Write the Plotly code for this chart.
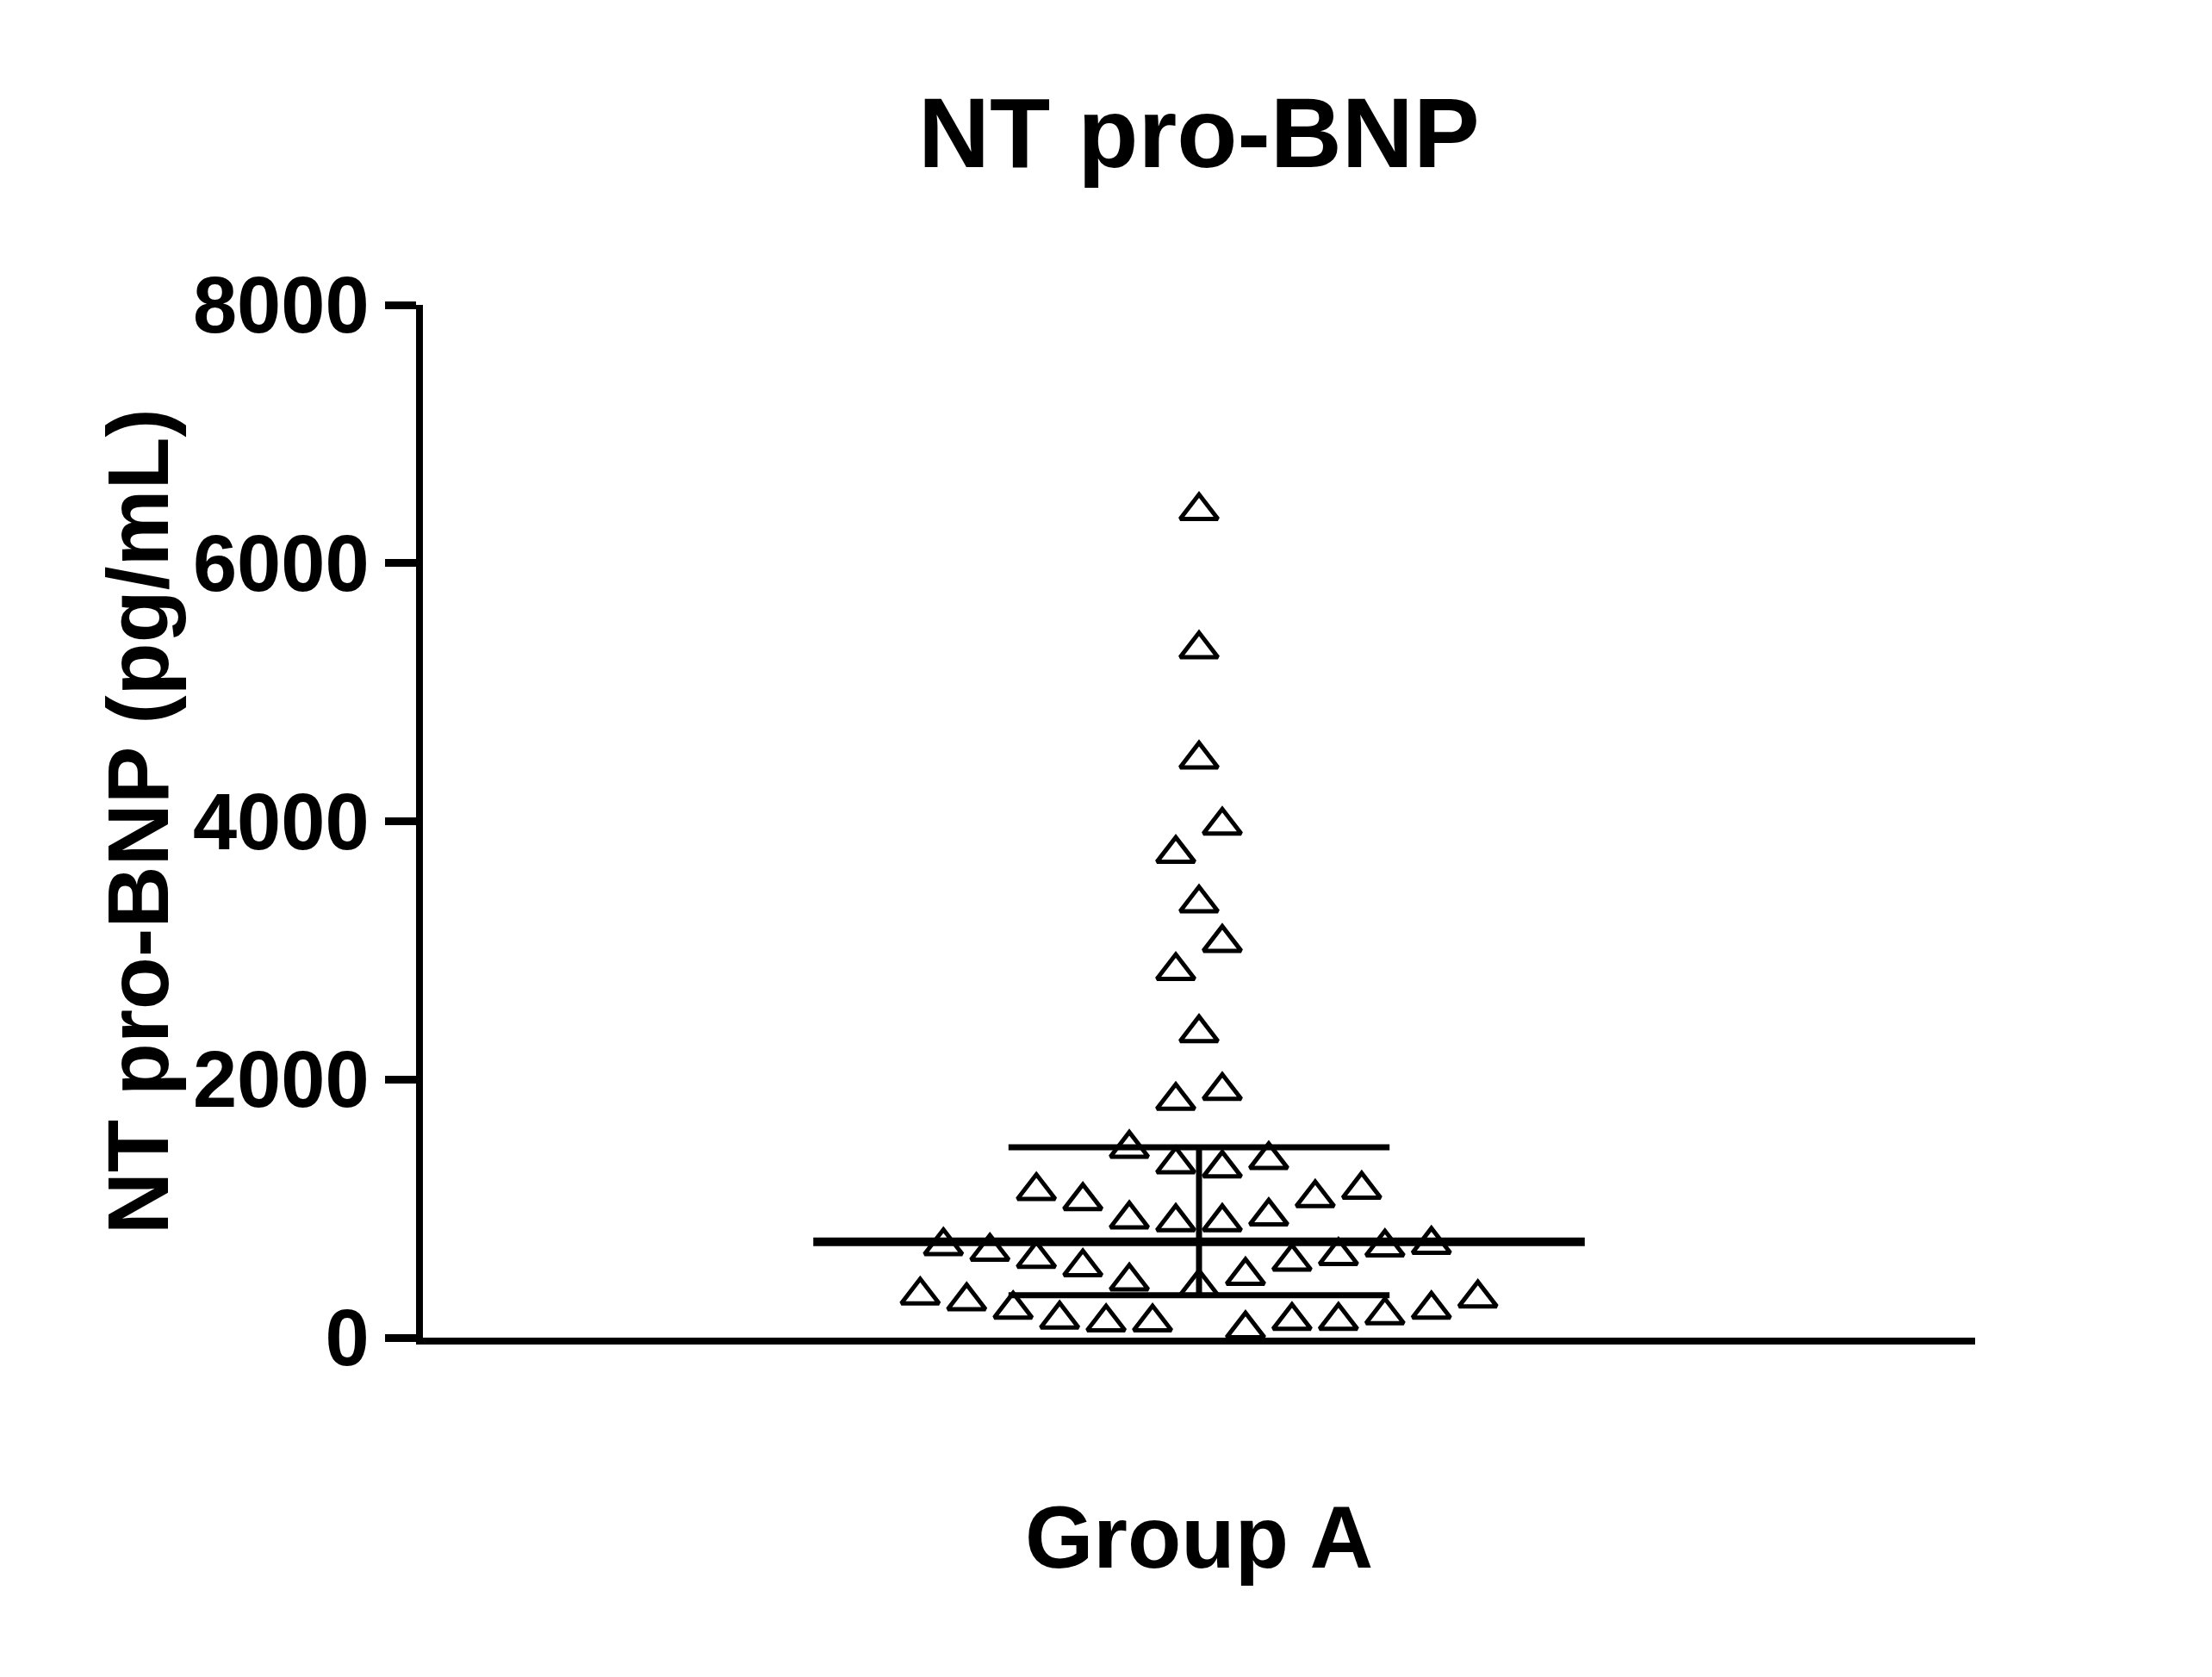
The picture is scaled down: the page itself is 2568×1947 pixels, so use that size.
import plotly.graph_objects as go

# NT pro-BNP values (pg/mL) and horizontal scatter offsets (in marker steps)
offsets = [0, 0, 0, 0.5, -0.5, 0, 0.5, -0.5, 0, 0.5, -0.5,
           -1.5, -0.5, 0.5, 1.5, -3.5, -2.5, 2.5, 3.5,
           -1.5, -0.5, 0.5, 1.5, -5.5, -4.5, -3.5, -2.5, 4, 5, 3, 2,
           -1.5, 0, 1,
           -6, -5, -4, -3, -2, -1, 0, 1, 2, 3, 4, 5, 6]
values = [6405, 5334, 4481, 3968, 3749, 3366, 3060, 2842, 2361, 1913, 1836,
          1465, 1344, 1312, 1377, 1137, 1060, 1082, 1148,
          918, 896, 896, 940, 710, 667, 612, 547, 700, 721, 634, 590,
          437, 393, 481,
          328, 284, 219, 142, 120, 120, -60, 66, 131, 131, 175, 219, 306]
median = 743
q1 = 328
q3 = 1475

BLACK = "black"
FONT = "Liberation Sans Narrow, Liberation Sans, Arial"
TFONT = "Liberation Sans, Arial"

fig = go.Figure()
# median and interquartile range
fig.add_trace(go.Scatter(x=[-8.3, 8.3], y=[median, median], mode="lines",
                         line=dict(color=BLACK, width=10), showlegend=False))
for v in (q1, q3):
    fig.add_trace(go.Scatter(x=[-4.1, 4.1], y=[v, v], mode="lines",
                             line=dict(color=BLACK, width=7), showlegend=False))
fig.add_trace(go.Scatter(x=[0, 0], y=[q1, q3], mode="lines",
                         line=dict(color=BLACK, width=7), showlegend=False))
fig.add_trace(go.Scatter(x=offsets, y=values, mode="markers", cliponaxis=False,
                         marker=dict(symbol="triangle-up-open", size=38, color=BLACK,
                                     line=dict(width=5, color=BLACK)),
                         showlegend=False))

fig.update_layout(
    width=2568, height=1947, plot_bgcolor="white", paper_bgcolor="white",
    margin=dict(l=483, r=283, t=346, b=402),
    font=dict(family=FONT, color=BLACK),
    xaxis=dict(range=[-16.7, 16.7], showgrid=False, zeroline=False, showline=True,
               linewidth=8, linecolor=BLACK, showticklabels=False, ticks="",
               layer="below traces"),
    yaxis=dict(range=[0, 8000], tickvals=[0, 2000, 4000, 6000, 8000], showgrid=False,
               zeroline=False, showline=True, linewidth=8, linecolor=BLACK,
               ticks="outside", ticklen=36, tickwidth=9, tickcolor=BLACK,
               tickfont=dict(size=92, family=FONT, weight="bold"),
               layer="below traces"),
    annotations=[
        dict(text="<b>NT pro-BNP</b>", xref="paper", yref="paper", x=0.5, y=1.222,
             showarrow=False, font=dict(size=115, family=TFONT)),
        dict(text="<b>NT pro-BNP (pg/mL)</b>", xref="paper", yref="paper", x=-0.216, y=0.5,
             textangle=-90, showarrow=False, font=dict(size=100, family=TFONT)),
        dict(text="<b>Group A</b>", xref="paper", yref="paper", x=0.5, y=-0.243,
             showarrow=False, font=dict(size=102, family=TFONT)),
    ],
)
fig.write_html("out.html")
